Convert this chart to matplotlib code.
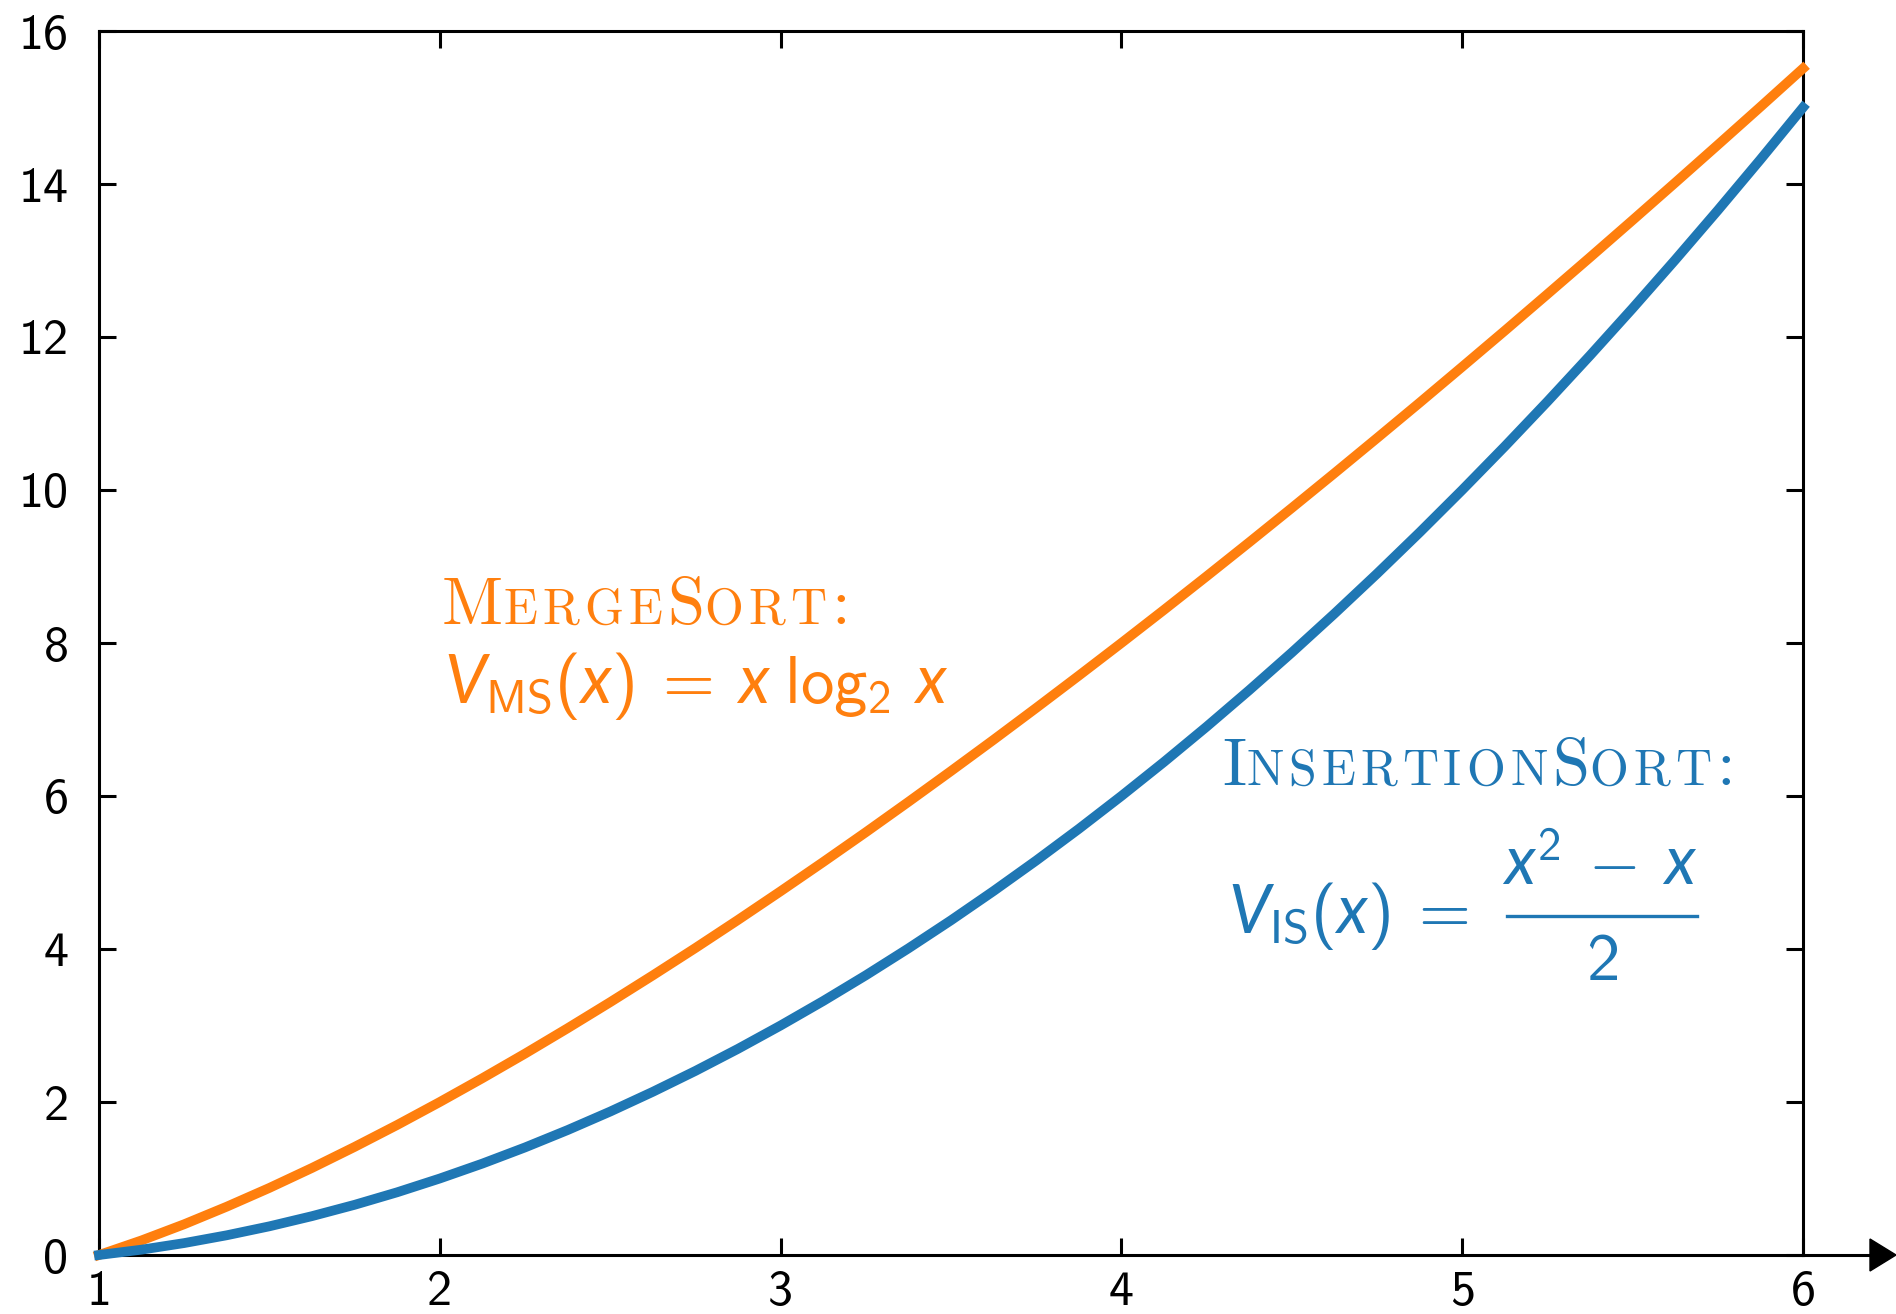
import matplotlib
matplotlib.use("Agg")
import matplotlib.pyplot as plt
from matplotlib.lines import Line2D
from matplotlib.patches import Polygon
from matplotlib.transforms import IdentityTransform

# values, every eighth step of x
x = [1.0, 1.125, 1.25, 1.375, 1.5, 1.625, 1.75, 1.875, 2.0, 2.125, 2.25,
     2.375, 2.5, 2.625, 2.75, 2.875, 3.0, 3.125, 3.25, 3.375, 3.5,
     3.625, 3.75, 3.875, 4.0, 4.125, 4.25, 4.375, 4.5, 4.625, 4.75,
     4.875, 5.0, 5.125, 5.25, 5.375, 5.5, 5.625, 5.75, 5.875, 6.0]
merge_sort = [0.0, 0.191, 0.402, 0.632, 0.877, 1.138, 1.413, 1.700, 2.0, 2.311, 2.632,
              2.964, 3.305, 3.655, 4.013, 4.380, 4.755, 5.137, 5.526, 5.923, 6.326,
              6.735, 7.151, 7.573, 8.0, 8.433, 8.872, 9.316, 9.765, 10.219, 10.678,
              11.141, 11.610, 12.082, 12.560, 13.041, 13.527, 14.017, 14.511, 15.008, 15.510]
insertion_sort = [0.0, 0.070, 0.156, 0.258, 0.375, 0.508, 0.656, 0.820, 1.0, 1.195, 1.406,
                  1.633, 1.875, 2.133, 2.406, 2.695, 3.0, 3.320, 3.656, 4.008, 4.375,
                  4.758, 5.156, 5.570, 6.0, 6.445, 6.906, 7.383, 7.875, 8.383, 8.906,
                  9.445, 10.0, 10.570, 11.156, 11.758, 12.375, 13.008, 13.656, 14.320, 15.0]
x_ticks = [1, 2, 3, 4, 5, 6]
y_ticks = [0, 2, 4, 6, 8, 10, 12, 14, 16]

ORANGE = "#ff7f0e"
BLUE = "#1f77b4"

plt.rcParams["mathtext.fontset"] = "custom"
plt.rcParams["mathtext.rm"] = "cmss10"
plt.rcParams["mathtext.sf"] = "cmss10"
plt.rcParams["mathtext.it"] = "Lato:italic"

W, H = 1896, 1314
fig = plt.figure(figsize=(W / 100, H / 100), dpi=100)
ax = fig.add_axes([99 / W, 1 - 1255 / H, (1803 - 99) / W, (1255 - 31) / H])

ax.plot(x, merge_sort, color=ORANGE, lw=7, clip_on=False, zorder=3)
ax.plot(x, insertion_sort, color=BLUE, lw=7, clip_on=False, zorder=3)

ax.set_xlim(1, 6)
ax.set_ylim(0, 16)
ax.set_xticks(x_ticks)
ax.set_yticks(y_ticks)
for s in ax.spines.values():
    s.set_linewidth(2.2)
ax.tick_params(direction="in", length=12, width=2.2, top=True, right=True,
               labelsize=36)
ax.tick_params(axis="y", pad=22)
ax.tick_params(axis="x", pad=11)
for lab in ax.get_xticklabels() + ax.get_yticklabels():
    lab.set_fontfamily("cmss10")

# arrow continuing the x axis to the right edge
fig.add_artist(Line2D([1803 / W, 1875 / W], [1 - 1255 / H] * 2,
                      color="black", lw=2.2))
fig.add_artist(Polygon([[1870 / W, 1 - 1239 / H], [1896 / W, 1 - 1255 / H],
                        [1870 / W, 1 - 1271 / H]], closed=True,
                       color="black", transform=fig.transFigure))

renderer = fig.canvas.get_renderer()
px = IdentityTransform()


def small_caps(parts, x0, y0, color, size=48, small=36, track=5):
    # fake small caps: big initials, smaller spaced capitals
    xp = x0
    for txt, big in parts:
        chars = [txt] if big else list(txt)
        for c in chars:
            t = fig.text(xp, y0, c, transform=px,
                         fontfamily="cmr10", fontsize=size if big else small,
                         color=color, ha="left", va="baseline")
            xp += t.get_window_extent(renderer).width
            if not big:
                xp += track


small_caps([("M", 1), ("ERGE", 0), ("S", 1), ("ORT", 0), (":", 1)],
           442, H - 624, ORANGE)
fig.text(444, H - 703, r"$V_{\mathrm{MS}}(x)\;=\;x\;\log_{2}\;x$",
         transform=px, fontsize=48, color=ORANGE, ha="left", va="baseline")

small_caps([("I", 1), ("NSERTION", 0), ("S", 1), ("ORT", 0), (":", 1)],
           1222, H - 785, BLUE)
fig.text(1228, H - 933, r"$V_{\mathrm{IS}}(x)\;=$",
         transform=px, fontsize=48, color=BLUE, ha="left", va="baseline")
# fraction (x^2 - x) / 2
fig.text(1600, H - 885, r"$x^2\;-\;x$", transform=px, fontsize=48,
         color=BLUE, ha="center", va="baseline")
fig.add_artist(Line2D([1507 / W, 1697 / W], [1 - 916 / H] * 2,
                      color=BLUE, lw=2.4))
fig.text(1602, H - 980, r"$2$", transform=px, fontsize=48,
         color=BLUE, ha="center", va="baseline")

fig.savefig("out.png", dpi=100)
